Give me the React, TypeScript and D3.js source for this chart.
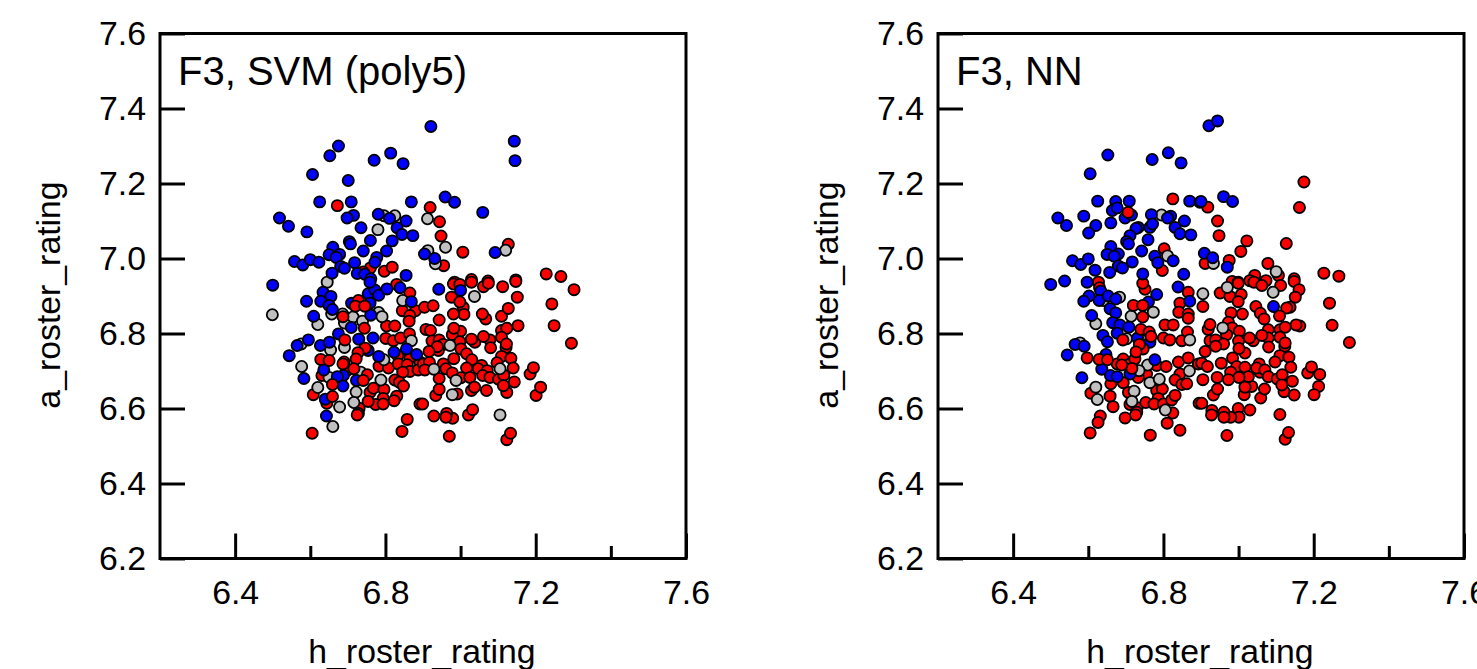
import React, { useEffect, useRef } from 'react';
import * as d3 from 'd3';

type Pt = [number, number, 'r' | 'g' | 'b'];

const xMajor = [6.4, 6.8, 7.2, 7.6];
const xMinor = [6.6, 7.0, 7.4];
const yTicks = [6.2, 6.4, 6.6, 6.8, 7.0, 7.2, 7.4, 7.6];

const colors = { r: '#ff0000', g: '#c0c0c0', b: '#0000ff' };

// F3, SVM (poly5): listed back to front
const svmPoints: Pt[] = [
  // red
  [6.672,7.141,'r'],[6.760,6.975,'r'],[6.797,6.966,'r'],[6.818,6.977,'r'],[6.741,6.964,'r'],
  [6.919,7.136,'r'],[6.944,7.098,'r'],[6.948,7.060,'r'],[7.006,7.017,'r'],[7.127,7.038,'r'],
  [6.955,6.981,'r'],[7.228,6.959,'r'],[7.267,6.952,'r'],[7.147,6.943,'r'],[7.073,6.940,'r'],
  [7.029,6.944,'r'],[6.984,6.937,'r'],
  [6.830,6.931,'r'],[6.865,6.908,'r'],[6.845,6.861,'r'],[6.880,6.861,'r'],[6.865,6.848,'r'],[6.863,6.833,'r'],
  [6.803,6.820,'r'],[6.825,6.820,'r'],[6.801,6.787,'r'],[6.821,6.781,'r'],[6.840,6.788,'r'],[6.864,6.799,'r'],
  [6.833,6.741,'r'],[6.865,6.734,'r'],[6.783,6.713,'r'],[6.808,6.708,'r'],[6.834,6.719,'r'],[6.858,6.717,'r'],
  [6.892,6.724,'r'],[6.865,6.699,'r'],[6.887,6.703,'r'],[6.846,6.697,'r'],[6.631,6.688,'r'],[6.697,6.701,'r'],
  [6.825,6.676,'r'],[6.837,6.670,'r'],[6.848,6.660,'r'],[6.608,6.637,'r'],[6.759,6.643,'r'],[6.768,6.654,'r'],
  [6.796,6.651,'r'],[6.830,6.633,'r'],[6.823,6.621,'r'],[6.644,6.614,'r'],[6.794,6.627,'r'],[6.774,6.611,'r'],
  [6.794,6.612,'r'],[6.754,6.619,'r'],[6.730,6.601,'r'],[6.728,6.587,'r'],[6.725,6.583,'r'],[6.605,6.534,'r'],
  [6.858,6.571,'r'],[6.844,6.539,'r'],[6.892,6.612,'r'],
  [6.981,6.932,'r'],[6.998,6.931,'r'],[7.029,6.937,'r'],[7.061,6.925,'r'],[7.074,6.934,'r'],[7.112,6.925,'r'],
  [7.147,6.939,'r'],[7.151,6.897,'r'],[7.302,6.917,'r'],[7.243,6.879,'r'],[7.249,6.821,'r'],[7.295,6.774,'r'],
  [6.976,6.897,'r'],[6.904,6.870,'r'],[6.927,6.874,'r'],[7.007,6.870,'r'],[7.009,6.851,'r'],[6.998,6.884,'r'],
  [6.981,6.852,'r'],[6.943,6.836,'r'],[7.067,6.839,'r'],[7.058,6.852,'r'],[7.109,6.846,'r'],[7.127,6.867,'r'],
  [7.153,6.821,'r'],[7.109,6.808,'r'],[7.123,6.814,'r'],[6.908,6.811,'r'],[6.920,6.808,'r'],[7.000,6.806,'r'],
  [6.978,6.797,'r'],[6.982,6.814,'r'],[7.038,6.777,'r'],[7.029,6.785,'r'],[7.078,6.783,'r'],[7.061,6.792,'r'],
  [7.080,6.762,'r'],[7.109,6.790,'r'],[7.121,6.763,'r'],[7.122,6.772,'r'],[6.924,6.780,'r'],[6.943,6.783,'r'],
  [6.954,6.771,'r'],[6.941,6.755,'r'],[6.938,6.765,'r'],[6.998,6.778,'r'],[7.001,6.759,'r'],[6.916,6.752,'r'],
  [7.016,6.746,'r'],[6.982,6.733,'r'],[7.030,6.730,'r'],[6.901,6.719,'r'],[6.917,6.723,'r'],[6.954,6.719,'r'],
  [6.961,6.706,'r'],[6.905,6.703,'r'],[7.109,6.739,'r'],[7.134,6.734,'r'],[7.097,6.722,'r'],[7.140,6.708,'r'],
  [7.016,6.708,'r'],[7.056,6.715,'r'],[7.047,6.706,'r'],[7.071,6.701,'r'],[6.978,6.695,'r'],[7.185,6.692,'r'],
  [7.194,6.709,'r'],[6.943,6.680,'r'],[7.001,6.682,'r'],[7.025,6.683,'r'],[7.059,6.688,'r'],[7.078,6.683,'r'],
  [7.101,6.678,'r'],[7.115,6.689,'r'],[7.143,6.671,'r'],[7.123,6.643,'r'],[7.114,6.661,'r'],[7.069,6.648,'r'],
  [7.029,6.648,'r'],[7.037,6.657,'r'],[6.934,6.635,'r'],[6.943,6.651,'r'],[6.991,6.639,'r'],[7.201,6.635,'r'],
  [7.213,6.657,'r'],[6.899,6.612,'r'],[7.021,6.583,'r'],[7.032,6.597,'r'],[6.929,6.580,'r'],[6.979,6.574,'r'],
  [6.963,6.587,'r'],[6.961,6.577,'r'],[6.970,6.526,'r'],[7.123,6.517,'r'],[7.133,6.534,'r'],
  // gray
  [6.796,7.114,'g'],[6.825,7.114,'g'],[6.780,7.077,'g'],[6.912,7.106,'g'],[6.960,7.030,'g'],[7.120,7.022,'g'],
  [6.913,7.021,'g'],[6.933,6.986,'g'],[6.499,6.850,'g'],[6.645,6.937,'g'],[6.657,6.852,'g'],[6.620,6.824,'g'],
  [6.686,6.852,'g'],[6.691,6.828,'g'],[6.714,6.844,'g'],[6.846,6.888,'g'],[6.782,6.856,'g'],[6.791,6.845,'g'],
  [6.739,6.833,'g'],[6.869,6.781,'g'],[6.576,6.772,'g'],[6.654,6.756,'g'],[6.691,6.763,'g'],[6.577,6.712,'g'],
  [6.796,6.730,'g'],[6.650,6.683,'g'],[6.734,6.697,'g'],[6.788,6.676,'g'],[6.620,6.656,'g'],[6.722,6.644,'g'],
  [6.716,6.616,'g'],[6.678,6.604,'g'],[6.660,6.552,'g'],[7.037,6.899,'g'],[6.972,6.768,'g'],[6.929,6.705,'g'],
  [7.105,6.706,'g'],[6.988,6.675,'g'],[6.978,6.637,'g'],[7.105,6.583,'g'],
  // blue
  [6.675,7.300,'b'],[6.652,7.274,'b'],[6.770,7.262,'b'],[6.814,7.281,'b'],[6.847,7.253,'b'],[6.606,7.224,'b'],
  [6.701,7.208,'b'],[6.625,7.151,'b'],[6.709,7.151,'b'],[6.869,7.151,'b'],[6.518,7.108,'b'],[6.542,7.086,'b'],
  [6.591,7.071,'b'],[6.715,7.115,'b'],[6.698,7.108,'b'],[6.781,7.118,'b'],[6.811,7.107,'b'],[6.855,7.100,'b'],
  [6.735,7.082,'b'],[6.831,7.082,'b'],[6.844,7.064,'b'],[6.873,7.061,'b'],[6.760,7.048,'b'],[6.818,7.047,'b'],
  [6.704,7.045,'b'],[6.707,7.039,'b'],[6.660,7.030,'b'],[6.741,7.020,'b'],[6.803,7.020,'b'],[6.650,7.010,'b'],
  [6.678,7.011,'b'],[6.669,7.003,'b'],[6.777,7.003,'b'],[6.558,6.992,'b'],[6.580,6.983,'b'],[6.600,6.997,'b'],
  [6.623,6.990,'b'],[6.718,6.989,'b'],[6.681,6.979,'b'],[6.691,6.974,'b'],[6.658,6.961,'b'],[6.725,6.960,'b'],
  [6.745,6.958,'b'],[6.761,6.946,'b'],[6.855,6.955,'b'],[6.772,6.990,'b'],[6.921,7.352,'b'],[7.143,7.313,'b'],
  [7.145,7.261,'b'],[6.959,7.164,'b'],[6.984,7.150,'b'],[7.059,7.123,'b'],[7.092,7.016,'b'],[6.904,7.012,'b'],
  [6.931,7.000,'b'],[6.500,6.929,'b'],[6.590,6.886,'b'],[6.634,6.910,'b'],[6.655,6.899,'b'],[6.628,6.886,'b'],
  [6.650,6.875,'b'],[6.659,6.864,'b'],[6.609,6.846,'b'],[6.710,6.881,'b'],[6.754,6.906,'b'],[6.772,6.916,'b'],
  [6.782,6.902,'b'],[6.804,6.919,'b'],[6.759,6.937,'b'],[6.759,6.881,'b'],[6.761,6.849,'b'],[6.709,6.816,'b'],
  [6.839,6.922,'b'],[6.869,6.885,'b'],[6.675,6.799,'b'],[6.729,6.785,'b'],[6.767,6.788,'b'],[6.595,6.783,'b'],
  [6.565,6.768,'b'],[6.627,6.768,'b'],[6.651,6.777,'b'],[6.544,6.741,'b'],[6.754,6.755,'b'],[6.782,6.739,'b'],
  [6.823,6.750,'b'],[6.856,6.759,'b'],[6.883,6.744,'b'],[6.636,6.703,'b'],[6.583,6.680,'b'],[6.688,6.688,'b'],
  [6.672,6.685,'b'],[6.723,6.675,'b'],[6.687,6.660,'b'],[6.640,6.625,'b'],[6.643,6.580,'b'],[6.942,6.918,'b'],
  [7.000,6.915,'b'],
  // red on top
  [6.728,6.888,'r'],[6.720,6.873,'r'],[6.745,6.873,'r'],[6.687,6.845,'r'],[6.744,6.814,'r'],[6.692,6.783,'r'],
  [6.746,6.761,'r'],[6.727,6.749,'r'],[6.722,6.732,'r'],[6.628,6.731,'r'],[6.650,6.728,'r'],[6.690,6.724,'r'],
  [6.687,6.719,'r'],[6.752,6.690,'r'],[6.741,6.675,'r'],[6.716,6.706,'r'],[6.659,6.664,'r'],[6.659,6.632,'r'],
];

// F3, NN: listed back to front
const nnPoints: Pt[] = [
  // red
  [6.825,7.159,'r'],[6.802,7.026,'r'],[6.797,6.968,'r'],[6.627,6.937,'r'],[6.630,6.922,'r'],
  [6.918,7.137,'r'],[6.944,7.100,'r'],[6.948,7.061,'r'],[7.022,7.047,'r'],[7.006,7.019,'r'],[7.127,7.040,'r'],
  [7.078,6.987,'r'],[7.106,6.955,'r'],[7.227,6.961,'r'],[7.267,6.953,'r'],[7.148,6.946,'r'],[7.043,6.955,'r'],
  [7.073,6.941,'r'],[6.983,6.939,'r'],[6.999,6.937,'r'],[7.030,6.941,'r'],[6.911,6.987,'r'],[6.975,6.995,'r'],
  [7.174,7.204,'r'],[7.162,7.136,'r'],
  [6.597,6.735,'r'],[6.677,6.719,'r'],[6.693,6.732,'r'],[6.711,6.719,'r'],[6.724,6.732,'r'],
  [6.800,6.788,'r'],[6.817,6.783,'r'],[6.849,6.781,'r'],[6.864,6.804,'r'],[6.804,6.823,'r'],[6.826,6.823,'r'],
  [6.751,6.918,'r'],[6.745,6.934,'r'],[6.866,6.910,'r'],[6.844,6.881,'r'],[6.841,6.857,'r'],[6.866,6.852,'r'],
  [6.866,6.841,'r'],[6.840,6.724,'r'],[6.866,6.735,'r'],[6.893,6.719,'r'],[6.782,6.715,'r'],[6.807,6.712,'r'],
  [6.755,6.692,'r'],[6.733,6.683,'r'],[6.844,6.692,'r'],[6.831,6.676,'r'],[6.849,6.664,'r'],[6.862,6.666,'r'],
  [6.607,6.641,'r'],[6.658,6.633,'r'],[6.666,6.605,'r'],[6.707,6.643,'r'],[6.711,6.611,'r'],[6.730,6.602,'r'],
  [6.729,6.590,'r'],[6.726,6.583,'r'],[6.753,6.616,'r'],[6.782,6.648,'r'],[6.797,6.652,'r'],[6.786,6.627,'r'],
  [6.775,6.612,'r'],[6.800,6.612,'r'],[6.825,6.588,'r'],[6.822,6.623,'r'],[6.831,6.635,'r'],[6.698,6.575,'r'],
  [6.632,6.580,'r'],[6.626,6.563,'r'],[6.605,6.535,'r'],[6.810,6.561,'r'],[6.844,6.542,'r'],[6.765,6.529,'r'],
  [6.895,6.614,'r'],[6.660,6.666,'r'],[6.693,6.669,'r'],
  [6.951,6.908,'r'],[6.999,6.934,'r'],[6.977,6.899,'r'],[7.007,6.904,'r'],[6.999,6.885,'r'],[7.041,6.937,'r'],
  [7.062,6.928,'r'],[7.112,6.928,'r'],[7.148,6.939,'r'],[7.161,6.917,'r'],[7.151,6.897,'r'],[7.137,6.870,'r'],
  [7.128,6.868,'r'],[7.109,6.847,'r'],[7.242,6.881,'r'],[7.249,6.822,'r'],[7.295,6.776,'r'],[6.905,6.872,'r'],
  [7.046,6.872,'r'],[7.058,6.854,'r'],[7.068,6.839,'r'],[6.980,6.855,'r'],[7.010,6.852,'r'],[7.163,6.820,'r'],
  [7.153,6.823,'r'],[6.919,6.811,'r'],[6.924,6.824,'r'],[6.973,6.830,'r'],[6.983,6.815,'r'],[7.002,6.806,'r'],
  [6.968,6.797,'r'],[7.079,6.810,'r'],[7.110,6.810,'r'],[7.124,6.817,'r'],[7.039,6.781,'r'],[7.029,6.788,'r'],
  [7.079,6.788,'r'],[7.062,6.795,'r'],[7.080,6.764,'r'],[7.110,6.790,'r'],[7.123,6.766,'r'],[7.124,6.775,'r'],
  [6.924,6.781,'r'],[6.939,6.783,'r'],[6.960,6.772,'r'],[6.939,6.766,'r'],[6.911,6.752,'r'],[7.000,6.780,'r'],
  [7.017,6.748,'r'],[7.001,6.760,'r'],[6.984,6.735,'r'],[7.110,6.741,'r'],[7.134,6.737,'r'],[7.097,6.724,'r'],
  [7.139,6.710,'r'],[6.902,6.721,'r'],[6.917,6.712,'r'],[6.954,6.721,'r'],[6.995,6.712,'r'],[7.017,6.710,'r'],
  [7.055,6.719,'r'],[7.057,6.697,'r'],[7.048,6.708,'r'],[7.070,6.703,'r'],[6.979,6.697,'r'],[7.079,6.685,'r'],
  [7.103,6.679,'r'],[7.116,6.690,'r'],[7.143,6.673,'r'],[7.121,6.645,'r'],[7.115,6.663,'r'],[7.148,6.636,'r'],
  [7.059,6.628,'r'],[7.069,6.652,'r'],[7.035,6.659,'r'],[7.026,6.685,'r'],[7.001,6.683,'r'],[6.973,6.677,'r'],
  [6.905,6.677,'r'],[6.943,6.683,'r'],[6.933,6.636,'r'],[6.944,6.652,'r'],[7.015,6.637,'r'],[7.017,6.657,'r'],
  [6.902,6.614,'r'],[7.184,6.695,'r'],[7.194,6.711,'r'],[7.216,6.691,'r'],[7.213,6.659,'r'],[7.201,6.637,'r'],
  [7.110,6.584,'r'],[7.030,6.596,'r'],[6.999,6.600,'r'],[7.001,6.577,'r'],[6.979,6.577,'r'],[6.961,6.590,'r'],
  [6.961,6.577,'r'],[6.929,6.595,'r'],[6.928,6.583,'r'],[6.969,6.528,'r'],[7.124,6.518,'r'],[7.133,6.536,'r'],
  // gray
  [6.795,7.116,'g'],[6.811,7.007,'g'],[7.100,6.965,'g'],[6.933,6.987,'g'],[6.640,6.888,'g'],[6.683,6.897,'g'],
  [6.620,6.826,'g'],[6.578,6.775,'g'],[6.748,6.781,'g'],[6.702,6.786,'g'],[6.870,6.783,'g'],[6.714,6.846,'g'],
  [6.773,6.857,'g'],[6.905,6.906,'g'],[6.970,6.923,'g'],[7.092,6.910,'g'],[6.869,6.700,'g'],[6.758,6.716,'g'],
  [6.735,6.701,'g'],[6.764,6.669,'g'],[6.789,6.678,'g'],[6.620,6.657,'g'],[6.624,6.624,'g'],[6.722,6.646,'g'],
  [6.716,6.619,'g'],[6.805,6.596,'g'],[6.958,6.815,'g'],
  // blue
  [6.652,7.276,'b'],[6.770,7.264,'b'],[6.813,7.282,'b'],[6.847,7.255,'b'],[6.605,7.226,'b'],[6.625,7.153,'b'],
  [6.673,7.152,'b'],[6.709,7.153,'b'],[6.870,7.153,'b'],[6.897,7.150,'b'],[6.664,7.128,'b'],[6.677,7.135,'b'],
  [6.698,7.108,'b'],[6.715,7.116,'b'],[6.519,7.108,'b'],[6.542,7.088,'b'],[6.588,7.113,'b'],[6.620,7.088,'b'],
  [6.601,7.068,'b'],[6.660,7.095,'b'],[6.768,7.117,'b'],[6.819,7.113,'b'],[6.811,7.108,'b'],[6.856,7.100,'b'],
  [6.764,7.083,'b'],[6.771,7.092,'b'],[6.733,7.083,'b'],[6.727,7.080,'b'],[6.831,7.083,'b'],[6.844,7.066,'b'],
  [6.873,7.063,'b'],[6.759,7.050,'b'],[6.711,7.061,'b'],[6.702,7.045,'b'],[6.707,7.039,'b'],[6.660,7.032,'b'],
  [6.742,7.020,'b'],[6.650,7.011,'b'],[6.680,7.012,'b'],[6.669,7.006,'b'],[6.777,7.006,'b'],[6.826,6.994,'b'],
  [6.785,6.989,'b'],[6.558,6.994,'b'],[6.580,6.984,'b'],[6.600,6.999,'b'],[6.618,6.969,'b'],[6.717,6.991,'b'],
  [6.680,6.980,'b'],[6.691,6.975,'b'],[6.657,6.963,'b'],[6.745,6.959,'b'],[6.854,6.958,'b'],[6.921,7.354,'b'],
  [6.944,7.367,'b'],[6.960,7.165,'b'],[6.984,7.152,'b'],[6.900,7.152,'b'],[6.909,7.014,'b'],[6.931,7.002,'b'],
  [6.970,6.977,'b'],[6.500,6.931,'b'],[6.537,6.940,'b'],[6.597,6.937,'b'],[6.633,6.913,'b'],[6.602,6.900,'b'],
  [6.588,6.886,'b'],[6.629,6.888,'b'],[6.653,6.900,'b'],[6.673,6.892,'b'],[6.658,6.866,'b'],[6.673,6.855,'b'],
  [6.609,6.848,'b'],[6.665,6.829,'b'],[6.684,6.823,'b'],[6.708,6.817,'b'],[6.677,6.801,'b'],[6.639,6.795,'b'],
  [6.651,6.778,'b'],[6.565,6.771,'b'],[6.589,6.766,'b'],[6.544,6.743,'b'],[6.647,6.744,'b'],[6.636,6.705,'b'],
  [6.659,6.688,'b'],[6.677,6.685,'b'],[6.583,6.682,'b'],[6.764,6.777,'b'],[6.731,6.788,'b'],[6.711,6.692,'b'],
  [6.760,6.884,'b'],[6.782,6.904,'b'],[6.839,6.924,'b'],[6.870,6.886,'b'],[6.777,6.730,'b'],[7.093,6.872,'b'],
  // red on top
  [6.706,7.123,'r'],[6.692,6.783,'r'],[6.720,6.875,'r'],[6.745,6.875,'r'],[6.745,6.844,'r'],[6.740,6.811,'r'],
  [6.762,6.804,'r'],[6.767,6.792,'r'],[6.746,6.759,'r'],[6.736,6.771,'r'],[6.727,6.751,'r'],[6.716,6.707,'r'],
  [6.689,6.716,'r'],[6.629,6.731,'r'],[6.651,6.730,'r'],
];

const fontFamily = '"Liberation Sans", Arial, sans-serif';

const App = () => {
  const svgRef = useRef<SVGSVGElement>(null);

  useEffect(() => {
    const svg = d3.select(svgRef.current);
    svg.selectAll('*').remove();

    const drawPanel = (left: number, title: string, points: Pt[]) => {
      const x = d3.scaleLinear().domain([6.2, 7.6]).range([left, left + 526]);
      const y = d3.scaleLinear().domain([6.2, 7.6]).range([558.5, 33.5]);
      const g = svg.append('g');

      g.append('rect')
        .attr('x', left)
        .attr('y', 33.5)
        .attr('width', 526)
        .attr('height', 525)
        .attr('fill', 'none')
        .attr('stroke', '#000')
        .attr('stroke-width', 3);

      // points
      g.selectAll('circle')
        .data(points)
        .enter()
        .append('circle')
        .attr('cx', (d) => x(d[0]))
        .attr('cy', (d) => y(d[1]))
        .attr('r', 5.6)
        .attr('fill', (d) => colors[d[2]])
        .attr('stroke', '#000')
        .attr('stroke-width', 1.8);

      // ticks point inward
      const xAxis = d3
        .axisBottom(x)
        .tickValues(xMajor)
        .tickSize(-25)
        .tickPadding(22)
        .tickFormat(d3.format('.1f') as any);
      const xMinorAxis = d3
        .axisBottom(x)
        .tickValues(xMinor)
        .tickSize(-12.5)
        .tickFormat(() => '');
      const yAxis = d3
        .axisLeft(y)
        .tickValues(yTicks)
        .tickSize(-25)
        .tickPadding(14)
        .tickFormat(d3.format('.1f') as any);

      [
        g.append('g').attr('transform', 'translate(0,558.5)').call(xAxis),
        g.append('g').attr('transform', 'translate(0,558.5)').call(xMinorAxis),
        g.append('g').attr('transform', `translate(${left},0)`).call(yAxis),
      ].forEach((a) => {
        a.select('.domain').remove();
        a.selectAll('.tick line').attr('stroke', '#000').attr('stroke-width', 3);
        a.selectAll('.tick text')
          .attr('fill', '#000')
          .attr('font-family', fontFamily)
          .attr('font-size', 33.8);
      });

      g.append('text')
        .attr('x', left + 18)
        .attr('y', 85)
        .attr('font-family', fontFamily)
        .attr('font-size', 40)
        .attr('fill', '#000')
        .text(title);

      g.append('text')
        .attr('x', left + 262)
        .attr('y', 663)
        .attr('text-anchor', 'middle')
        .attr('font-family', fontFamily)
        .attr('font-size', 33.8)
        .attr('fill', '#000')
        .text('h_roster_rating');

      g.append('text')
        .attr('transform', `translate(${left - 100},295) rotate(-90)`)
        .attr('text-anchor', 'middle')
        .attr('font-family', fontFamily)
        .attr('font-size', 33.8)
        .attr('fill', '#000')
        .text('a_roster_rating');
    };

    drawPanel(160, 'F3, SVM (poly5)', svmPoints);
    drawPanel(938, 'F3, NN', nnPoints);
  }, []);

  return (
    <svg
      ref={svgRef}
      width={1477}
      height={669}
      style={{ position: 'fixed', left: 0, top: 0, background: '#fff' }}
    />
  );
};

export default App;
